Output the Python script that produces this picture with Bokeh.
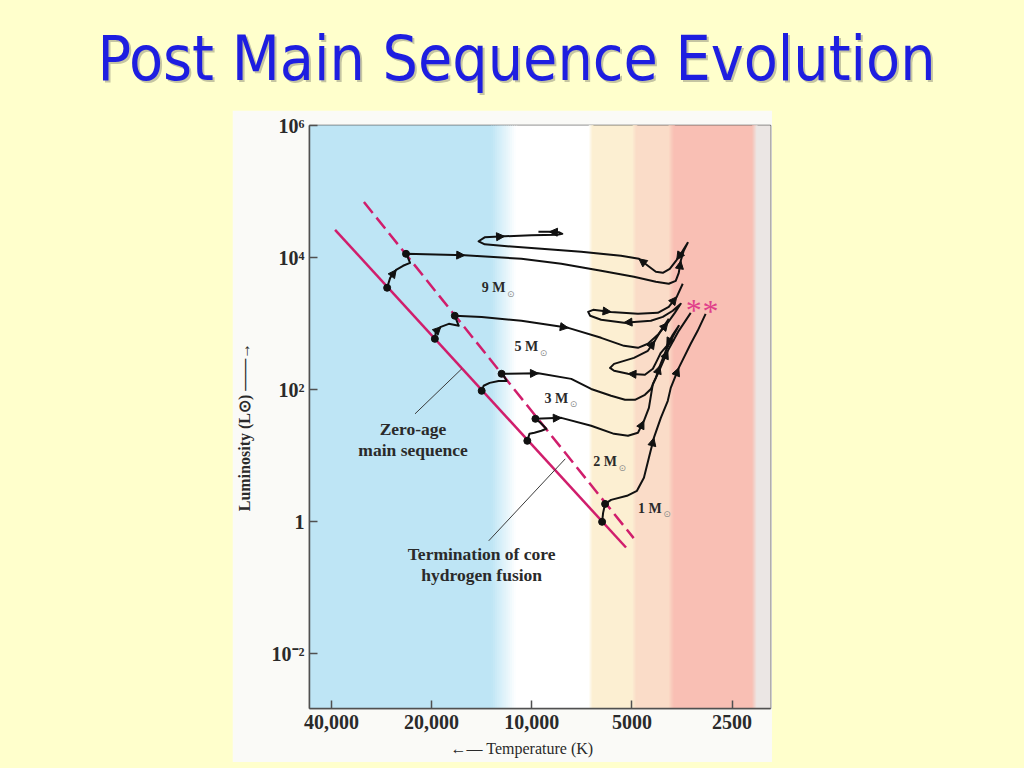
from bokeh.plotting import figure
from bokeh.models import Range1d, FixedTicker, Arrow, NormalHead, ColumnDataSource, Spacer, CustomJS
from bokeh.layouts import column, row
from bokeh.core.properties import value
from bokeh.embed import file_html
from bokeh.resources import INLINE
from bokeh.document import Document

BG = "#FFFFCC"
SERIF = "Liberation Serif"

title_text = "Post Main Sequence Evolution"

# ---- axes ----
t_ticks = [40000, 20000, 10000, 5000, 2500]
t_labels = ["40,000", "20,000", "10,000", "5000", "2500"]
l_ticks = [0.01, 1, 100, 10000, 1000000]
l_labels = ["10⁻²", "1", "10²", "10⁴", "10⁶"]
T_MAX, T_MIN = 46550, 1916
L_MIN, L_MAX = 0.00147, 1.0e6
x_title = "←— Temperature (K)"
y_title = "Luminosity (L⊙) ——→"

# ---- background temperature bands ----
band_T = [46550, 13200, 11100, 6720, 6540, 4960, 4830, 3870, 3720, 2170, 2100, 1916]
band_colors = ["#BEE5F5", "#BEE5F5", "#FFFFFF", "#FFFFFF", "#FCEFD2", "#FCEFD2",
               "#FADCC8", "#FADCC8", "#F9BFB4", "#F9BFB4", "#EBE6E4", "#EBE6E4"]

# ---- main sequence lines ----
zams_T = [39000, 5208]
zams_L = [26300, 0.404]
tams_T = [31940, 4939]
tams_L = [69340, 0.560]

# ---- evolutionary tracks ----
track_9_T = [27200, 26640, 25560, 24360, 23210, 23540, 23870, 15900, 10740, 8150, 6187, 4930,
             4236, 3874, 3691, 3615, 3566, 3493, 3398, 3517, 3666, 3847, 4037, 4236, 4476, 4762,
             5391, 7101, 9352, 12320, 13850, 14440, 13850, 12070, 10030, 8376, 8094, 8263, 8851, 9547]
track_9_L = [3480, 4920, 6510, 7490, 8310, 9890, 11380, 10800, 9550, 8030, 6290, 5100,
             4280, 4000, 4430, 5860, 8910, 12640, 16710, 12640, 9230, 6740, 5860, 6070, 7490, 9550,
             10610, 12200, 13550, 15050, 15860, 17610, 20230, 20950, 21700, 22080, 22860, 24100, 24530, 24530]

track_5_T = [19550, 19420, 18760, 17750, 16570, 16800, 17030, 14140, 10740, 7766, 6187, 5281,
             4795, 4476, 4179, 3900, 3716, 3566, 3768, 4037, 4384, 5281, 6187, 6674, 6767, 6537,
             5775, 4795, 4179, 3874, 3666, 3517]
track_5_L = [586, 748, 891, 989, 922, 1100, 1310, 1260, 1100, 860, 607, 459,
             428, 493, 674, 1030, 1450, 1990, 1560, 1260, 1100, 1030, 1140, 1310, 1500, 1610,
             1500, 1400, 1450, 1790, 2540, 4000]

track_3_T = [14140, 13950, 13380, 12580, 11900, 12070, 12320, 9547, 7608, 6629, 5775, 5245,
             4895, 4569, 4384, 4236, 4121, 3954, 3768, 3615, 3768, 3927, 4093, 4207, 4325, 4569,
             5137, 5657, 5815, 5657, 4929, 4476, 4266, 4093, 3874]
track_3_L = [95.5, 114, 126, 135, 135, 155, 173, 176, 145, 102, 80.3, 69.8,
             69.8, 83.1, 102, 150, 229, 386, 629, 922, 674, 459, 360, 272, 206, 167,
             173, 192, 213, 245, 302, 386, 547, 775, 1180]

track_2_T = [10310, 10160, 9814, 9352, 9035, 9417, 9747, 8150, 6629, 5657, 5137, 4795,
             4601, 4445, 4325, 4179, 3900, 3615, 3328]
track_2_L = [16.7, 21.3, 22.1, 23.7, 25.4, 31.3, 36.0, 37.2, 28.2, 21.3, 19.9, 22.1,
             33.6, 52.8, 122, 173, 386, 775, 1450]

track_1_T = [6145, 6102, 6019, 5775, 5173, 4828, 4601, 4445, 4295, 4093, 3900, 3821,
             3615, 3328, 3172, 3002]
track_1_L = [0.99, 1.354, 1.85, 2.13, 2.45, 2.92, 4.59, 9.23, 18.5, 37.2, 67.4, 106,
             213, 493, 775, 1400]

tams_index = [6, 6, 6, 6, 2]
arrow_index = [[2, 7, 16, 20, 25, 33, 38], [2, 9, 15, 21, 26, 30], [7, 16, 21, 26, 32],
               [7, 12, 16], [8, 12]]

mass_names = ["9 M", "5 M", "3 M", "2 M", "1 M"]
mass_label_T = [14140, 11265, 9161, 6537, 4795]
mass_label_L = [3480, 443, 73.6, 8.03, 1.585]

note_texts = ["Zero-age\nmain sequence", "Termination of core\nhydrogen fusion"]
note_T = [22740, 14140]
note_L = [17.7, 0.221]
leader_T = [[22430, 16230], [13470, 7929]]
leader_L = [[42.8, 206], [0.510, 8.91]]

flash_T = [3260, 2900]
flash_L = [1990, 1920]

tracks_T = [track_9_T, track_5_T, track_3_T, track_2_T, track_1_T]
tracks_L = [track_9_L, track_5_L, track_3_L, track_2_L, track_1_L]

# ================= title =================
tfig = figure(width=1024, height=110, x_range=Range1d(0, 1024), y_range=Range1d(110, 0),
              x_axis_type=None, y_axis_type=None, output_backend="svg",
              toolbar_location=None, min_border=0)
tfig.grid.visible = False
tfig.outline_line_color = None
tfig.background_fill_color = BG
tfig.border_fill_color = BG
tfig.text(x=[518], y=[60], text=[title_text], text_font=value("DejaVu Sans Condensed"),
          text_font_size="62px", text_color="#8c8c78", text_alpha=0.5,
          text_align="center", text_baseline="middle")
tfig.text(x=[516], y=[58], text=[title_text], text_font=value("DejaVu Sans Condensed"),
          text_font_size="62px", text_color="#1E1EE0",
          text_align="center", text_baseline="middle")

# ================= main chart =================
p = figure(width=540, height=652, x_axis_type="log", y_axis_type="log",
           x_range=Range1d(T_MAX, T_MIN), y_range=Range1d(L_MIN, L_MAX),
           output_backend="svg", toolbar_location=None,
           min_border_left=75, min_border_right=2, min_border_top=15, min_border_bottom=54)
p.border_fill_color = "#FAFAF7"
p.background_fill_color = "white"
p.outline_line_color = "#505050"
p.outline_line_width = 1.5
p.grid.visible = False


def mix(c1, c2, f):
    a = [int(c1[i:i + 2], 16) for i in (1, 3, 5)]
    b = [int(c2[i:i + 2], 16) for i in (1, 3, 5)]
    return "#%02x%02x%02x" % tuple(round(a[k] + (b[k] - a[k]) * f) for k in range(3))


lefts, rights, cols = [], [], []
for i in range(len(band_T) - 1):
    t0, t1 = band_T[i], band_T[i + 1]
    c0, c1 = band_colors[i], band_colors[i + 1]
    n = 1 if c0 == c1 else 12
    for k in range(n):
        lefts.append(t0 * (t1 / t0) ** (k / n))
        rights.append(t0 * (t1 / t0) ** ((k + 1) / n))
        cols.append(c0 if n == 1 else mix(c0, c1, (k + 0.5) / n))
p.quad(left=lefts, right=rights, bottom=L_MIN, top=L_MAX, fill_color=cols,
       line_color=cols, line_width=1)

MAG = "#D01E6C"
p.line(zams_T, zams_L, line_color=MAG, line_width=2.5)
p.line(tams_T, tams_L, line_color=MAG, line_width=2.5, line_dash="14 6")

for lt, ll in zip(leader_T, leader_L):
    p.line(lt, ll, line_color="#3a3a3a", line_width=1)

for T, L in zip(tracks_T, tracks_L):
    p.line(T, L, line_color="#111111", line_width=2, line_join="round")

dot_T = [T[0] for T in tracks_T] + [T[k] for T, k in zip(tracks_T, tams_index)]
dot_L = [L[0] for L in tracks_L] + [L[k] for L, k in zip(tracks_L, tams_index)]
p.scatter(dot_T, dot_L, size=7, color="#111111")

x0, y0, x1, y1 = [], [], [], []
for T, L, idxs in zip(tracks_T, tracks_L, arrow_index):
    for i in idxs:
        x0.append(T[i - 1]); y0.append(L[i - 1]); x1.append(T[i]); y1.append(L[i])
asrc = ColumnDataSource(dict(x0=x0, y0=y0, x1=x1, y1=y1))
p.add_layout(Arrow(end=NormalHead(size=8, fill_color="#111111", line_color="#111111"),
                   x_start="x0", y_start="y0", x_end="x1", y_end="y1",
                   source=asrc, line_alpha=0))

p.text(mass_label_T, mass_label_L, text=mass_names, text_font=value(SERIF),
       text_font_size="14px", text_font_style="bold", text_color="#2a2a2a",
       text_align="left", text_baseline="middle")
p.text(mass_label_T, mass_label_L, text=["⊙"] * len(mass_names), text_font=value("DejaVu Sans"),
       text_font_size="9px", text_color="#8c8c8c", x_offset=29, y_offset=6,
       text_align="center", text_baseline="middle")

p.text(note_T, note_L, text=note_texts, text_font=value(SERIF), text_font_size="17.5px",
       text_font_style="bold", text_color="#2a2a2a", text_align="center",
       text_baseline="middle", text_line_height=1.05)

p.text(flash_T, flash_L, text=["*", "*"], text_font=value(SERIF), text_font_size="32px",
       text_color="#E0408A", text_align="center", text_baseline="middle", y_offset=6)

# axes styling
p.xaxis.ticker = FixedTicker(ticks=t_ticks, minor_ticks=[])
p.xaxis.major_label_overrides = dict(zip(t_ticks, t_labels))
p.yaxis.ticker = FixedTicker(ticks=l_ticks, minor_ticks=[])
p.yaxis.major_label_overrides = dict(zip(l_ticks, l_labels))
for ax in (p.xaxis, p.yaxis):
    ax.major_tick_in = 8
    ax.major_tick_out = 0
    ax.minor_tick_in = 0
    ax.minor_tick_out = 0
    ax.axis_line_color = "#505050"
    ax.axis_line_width = 1.5
    ax.major_tick_line_color = "#505050"
    ax.major_tick_line_width = 1.5
    ax.major_label_text_font = SERIF
    ax.major_label_text_font_size = "20px"
    ax.major_label_text_font_style = "bold"
    ax.major_label_text_color = "#2a2a2a"
    ax.axis_label_text_font = SERIF
    ax.axis_label_text_color = "#2a2a2a"
NBSP = "\u00a0"
p.xaxis.axis_label = x_title + NBSP * 9
p.xaxis.axis_label_text_font_size = "16px"
p.xaxis.axis_label_text_font_style = "normal"
p.xaxis.major_label_standoff = 6
p.xaxis.axis_label_standoff = 8
p.yaxis.axis_label = y_title + NBSP * 5
p.yaxis.axis_label_text_font_size = "16px"
p.yaxis.axis_label_text_font_style = "bold"
p.yaxis.major_label_standoff = 5
p.yaxis.axis_label_standoff = 16

left_pad = Spacer(width=232, height=652)
right_pad = Spacer(width=252, height=652)

page = column(tfig, row(left_pad, p, right_pad, spacing=0), spacing=0)

doc = Document()
doc.add_root(page)
doc.js_on_event("document_ready", CustomJS(code="document.body.style.background='#FFFFCC';"))

open("out.html", "w").write(file_html(doc, INLINE))
